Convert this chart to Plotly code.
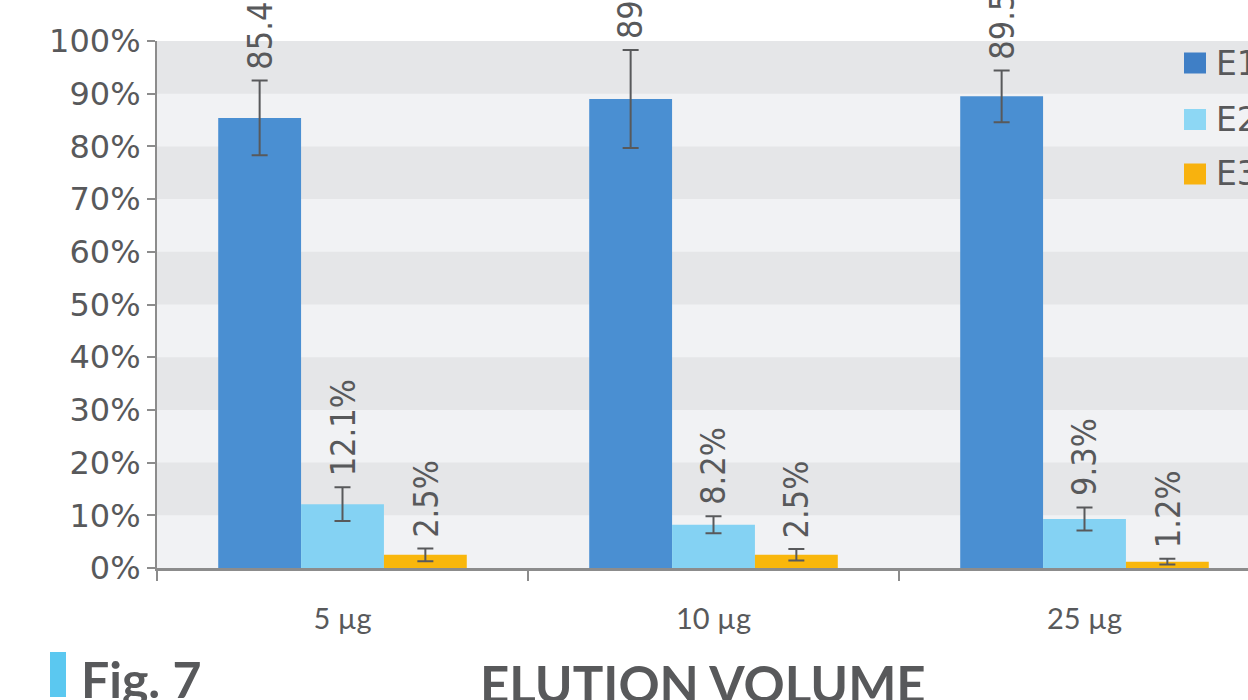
import plotly.graph_objects as go

# ---- data ----
categories = ["5 µg", "10 µg", "25 µg"]
series_names = ["E1", "E2", "E3"]
e1_values = [85.4, 89.0, 89.5]
e2_values = [12.1, 8.2, 9.3]
e3_values = [2.5, 2.5, 1.2]
e1_errors = [7.1, 9.3, 4.9]
e2_errors = [3.2, 1.6, 2.2]
e3_errors = [1.2, 1.1, 0.55]
y_tick_values = [0, 10, 20, 30, 40, 50, 60, 70, 80, 90, 100]
y_tick_labels = ["0%", "10%", "20%", "30%", "40%", "50%", "60%", "70%", "80%", "90%", "100%"]

# ---- styles ----
bar_colors = ["#4a8fd2", "#84d2f3", "#f9b70c"]
legend_colors = ["#3f7fc6", "#8dd7f4", "#f8b20e"]
text_color = "#58595b"
axis_color = "#8c8c8c"
band_dark = "#e5e6e8"
band_light = "#f1f2f4"
bargap = 0.33

values = [e1_values, e2_values, e3_values]
errors = [e1_errors, e2_errors, e3_errors]

fig = go.Figure()
for name, vals, errs, col in zip(series_names, values, errors, bar_colors):
    fig.add_trace(go.Bar(
        x=categories, y=vals, name=name,
        marker=dict(color=col, line=dict(width=0)),
        error_y=dict(type="data", array=errs, color=text_color, thickness=2, width=8),
        showlegend=False,
    ))

# value labels (rotated) above the error bars
bw = (1 - bargap) / len(series_names)
annotations = []
for j, (vals, errs) in enumerate(zip(values, errors)):
    for i, (v, e) in enumerate(zip(vals, errs)):
        annotations.append(dict(
            x=i + (j - 1) * bw, y=v + e, xref="x", yref="y",
            text=f"{v:.1f}%", textangle=-90, showarrow=False,
            xanchor="center", yanchor="bottom", yshift=9,
            font=dict(family="Liberation Sans Narrow, DejaVu Sans Condensed, Roboto", size=34, color=text_color),
        ))

# manual legend
shapes = []
legend_px = [63, 119.5, 174]
for k, (name, col) in enumerate(zip(series_names, legend_colors)):
    yc = (568 - legend_px[k]) / 527
    shapes.append(dict(type="rect", xref="paper", yref="paper",
                       x0=(1184 - 157) / 1091, x1=(1206 - 157) / 1091,
                       y0=yc - 10.5 / 527, y1=yc + 10.5 / 527,
                       fillcolor=col, line=dict(width=0), layer="above"))
    annotations.append(dict(x=(1214 - 157) / 1091, y=yc, xref="paper", yref="paper",
                            text=name, showarrow=False, xanchor="left", yanchor="middle",
                            font=dict(family="DejaVu Sans", size=33, color=text_color)))

# background bands
for lo in range(10, 100, 20):
    shapes.append(dict(type="rect", xref="paper", yref="y", x0=0, x1=1, y0=lo, y1=lo + 10,
                       fillcolor=band_dark, line=dict(width=0), layer="below"))

# Fig. 7 marker bar
shapes.append(dict(type="rect", xref="paper", yref="paper",
                   x0=(50 - 157) / 1091, x1=(66 - 157) / 1091,
                   y0=(568 - 697) / 527, y1=(568 - 652) / 527,
                   fillcolor="#5bc8f0", line=dict(width=0)))
annotations.append(dict(x=(79 - 157) / 1091, y=(568 - 679) / 527, xref="paper", yref="paper",
                        text="<b>Fig. 7</b>", showarrow=False, xanchor="left", yanchor="middle",
                        font=dict(family="Lato", size=50, color=text_color)))
annotations.append(dict(x=0.5, y=(568 - 683) / 527, xref="paper", yref="paper",
                        text="<b>ELUTION VOLUME</b>", showarrow=False, xanchor="center", yanchor="middle",
                        font=dict(family="Lato", size=51, color=text_color)))

fig.update_layout(
    width=1248, height=700,
    margin=dict(l=157, r=0, t=41, b=132),
    barmode="group", bargap=bargap, bargroupgap=0,
    plot_bgcolor=band_light, paper_bgcolor="white",
    shapes=shapes, annotations=annotations,
    xaxis=dict(type="category", range=[-0.5, -0.5 + 1091 / 371], tickson="boundaries",
               ticks="outside", ticklen=10, tickwidth=2, tickcolor=axis_color,
               showline=True, linecolor=axis_color, linewidth=3, showgrid=False,
               tickfont=dict(family="Lato", size=29, color=text_color), ticklabelstandoff=23),
    yaxis=dict(range=[0, 100], tickvals=y_tick_values, ticktext=y_tick_labels,
               ticks="outside", ticklen=8, tickwidth=2, tickcolor=axis_color,
               showline=True, linecolor=axis_color, linewidth=2, showgrid=False, zeroline=False,
               tickfont=dict(family="DejaVu Sans", size=32, color=text_color)),
)

fig.write_html("out.html", config={"displayModeBar": False},
               post_script="document.body.style.margin='0';document.body.style.overflow='hidden';")
